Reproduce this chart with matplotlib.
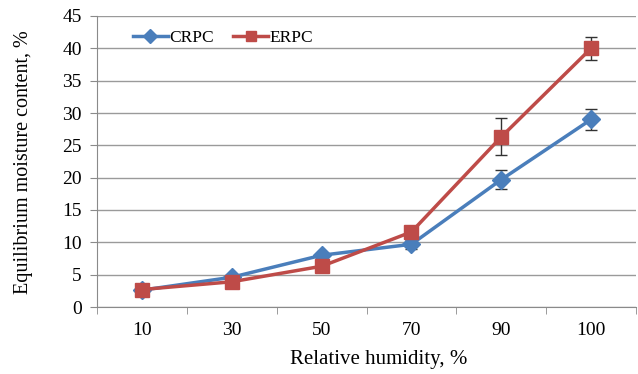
import matplotlib
matplotlib.use("Agg")
import matplotlib.pyplot as plt
import numpy as np

categories = ["10", "30", "50", "70", "90", "100"]
crpc = [2.6, 4.6, 8.0, 9.7, 19.7, 29.0]
crpc_err = [0.2, 0.2, 0.3, 0.7, 1.45, 1.6]
erpc = [2.7, 3.9, 6.3, 11.6, 26.3, 40.0]
erpc_err = [0.2, 0.2, 0.2, 0.3, 2.85, 1.75]
yticks = [0, 5, 10, 15, 20, 25, 30, 35, 40, 45]

plt.rcParams['font.family'] = ['Liberation Serif', 'DejaVu Serif']

fig = plt.figure(figsize=(6.38, 3.74), dpi=100)
ax = fig.add_axes([97/638, (374-307)/374, (636-97)/638, (307-16)/374])

x = np.arange(len(categories))
blue = '#4A7EBB'
red = '#BE4B48'

ax.errorbar(x, crpc, yerr=crpc_err, color=blue, lw=2.5, marker='D', ms=9,
            ecolor='#333333', elinewidth=1, capsize=4, capthick=1, label='CRPC', zorder=3)
ax.errorbar(x, erpc, yerr=erpc_err, color=red, lw=2.5, marker='s', ms=10,
            ecolor='#333333', elinewidth=1, capsize=4, capthick=1, label='ERPC', zorder=4)

ax.set_xlim(-0.5, len(categories) - 0.5)
ax.set_ylim(0, 45)
ax.set_yticks(yticks)
ax.yaxis.grid(True, color='#9a9a9a', lw=1)
ax.set_axisbelow(True)

ax.set_xticks(x)
ax.set_xticklabels(categories)
ax.set_xticks(np.arange(-0.5, len(categories)), minor=True)
ax.tick_params(axis='x', which='major', length=0, pad=11, labelsize=14)
ax.tick_params(axis='x', which='minor', length=5, color='#8a8a8a', direction='out')
ax.tick_params(axis='y', length=5, color='#8a8a8a', direction='out', labelsize=14, pad=6)

for s in ['top', 'right']:
    ax.spines[s].set_visible(False)
for s in ['left', 'bottom']:
    ax.spines[s].set_color('#8a8a8a')

ax.set_xlabel('Relative humidity, %', fontsize=15)
ax.set_ylabel('Equilibrium moisture content, %', fontsize=14.5)
ax.xaxis.set_label_coords((379 - 97) / 539, (307 - 350) / 291)
ax.yaxis.set_label_coords((33 - 97) / 539, (307 - 162.5) / 291)

handles, labels = ax.get_legend_handles_labels()
handles = [h[0] for h in handles]
leg = ax.legend(handles, labels, loc='center left',
                bbox_to_anchor=((133 - 97) / 539, (307 - 38) / 291), ncol=2,
                frameon=False, fontsize=12.5, handlelength=2.0, handletextpad=0.1,
                columnspacing=1.1, borderaxespad=0, borderpad=0, markerscale=0.75)

fig.savefig('out.png', dpi=100)
